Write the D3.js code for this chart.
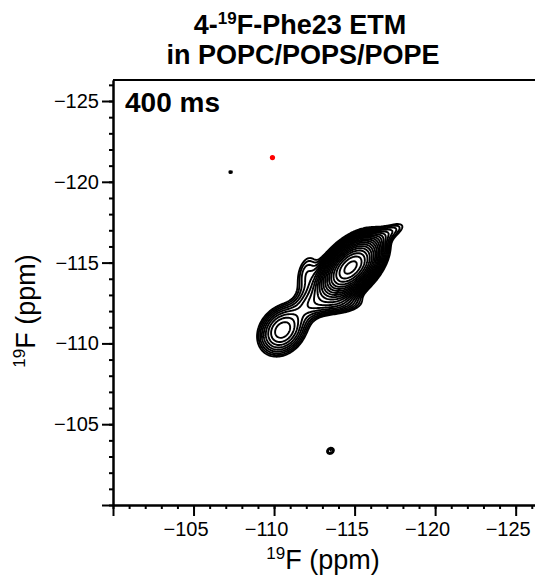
<!DOCTYPE html>
<html>
<head>
<meta charset="utf-8">
<script src="https://cdn.jsdelivr.net/npm/d3@7"></script>
<style>
  body { margin: 0; background: #fff; }
  text { font-family: "Liberation Sans", Arial, sans-serif; fill: #000; }
</style>
</head>
<body>
<svg id="drawing_region"></svg>
<script>
// axis ticks (ppm)
const xTicks = [-100, -105, -110, -115, -120, -125];
const yTicks = [-100, -105, -110, -115, -120, -125];

// peak list (ppm, ppm, height, widths along/across, angle deg)
const peakX     = [-114.75, -110.5, -112.4, -112.0, -114.0, -117.2, -113.5, -107.3];
const peakY     = [-114.7, -110.8, -112.6, -114.4, -112.4, -116.9, -103.35, -120.6];
const peakAmp   = [48, 5.6, 2.4, 1.6, 2.0, 1.5, 1.5, 1.3];
const peakWidA  = [1.1, 0.95, 1.0, 0.9, 1.1, 0.9, 0.25, 0.15];
const peakWidB  = [0.62, 0.75, 0.6, 0.45, 0.4, 0.33, 0.2, 0.08];
const peakAngle = [45, 50, 45, 75, 5, 27, 30, 0];

// contour levels
const levels = [1, 1.22, 1.49, 1.82, 2.22, 2.7, 3.3, 4.02, 4.91, 5.99,
                7.3, 8.9, 10.9, 13.3, 16.2, 19.7, 24.1, 29.4, 35.8, 43.7];

// extra marker (red dot)
const markerX = [-109.9];
const markerY = [-121.5];

class ContourPlot {
    constructor( config ) {
        this.config = config;
        this.init();
    }

    init() {
        let self = this;
        self.svg = d3.select( self.config.parent )
            .attr('width', self.config.width)
            .attr('height', self.config.height);

        self.xscale = d3.scaleLinear()
            .domain([-100, -126.2])
            .range([113, 535]);
        self.yscale = d3.scaleLinear()
            .domain([-100, -126.3])
            .range([505, 80]);
    }

    render() {
        let self = this;
        const step = 0.08;
        const x0 = -100, y0 = -100;
        const nx = Math.ceil(26.2 / step) + 1;
        const ny = Math.ceil(26.3 / step) + 1;

        const values = new Float64Array(nx * ny);
        for (let j = 0; j < ny; j++) {
            const y = y0 - j * step;
            for (let i = 0; i < nx; i++) {
                const x = x0 - i * step;
                let v = 0;
                for (let k = 0; k < peakX.length; k++) {
                    const a = peakAngle[k] * Math.PI / 180;
                    const dx = x - peakX[k], dy = y - peakY[k];
                    const du = dx * Math.cos(a) + dy * Math.sin(a);
                    const dv = -dx * Math.sin(a) + dy * Math.cos(a);
                    v += peakAmp[k] * Math.exp(-du*du/(2*peakWidA[k]**2) - dv*dv/(2*peakWidB[k]**2));
                }
                values[i + j * nx] = v;
            }
        }

        const contours = d3.contours()
            .size([nx, ny])
            .thresholds(levels)(values);

        const proj = d3.geoTransform({
            point: function(gx, gy) {
                this.stream.point(self.xscale(x0 - (gx - 0.5) * step), self.yscale(y0 - (gy - 0.5) * step));
            }
        });
        const path = d3.geoPath(proj);

        self.svg.append('g')
            .selectAll('path')
            .data(contours)
            .join('path')
            .attr('d', path)
            .attr('fill', 'none')
            .attr('stroke', '#000')
            .attr('stroke-width', 1.9)
            .attr('stroke-linejoin', 'round');

        self.svg.append('g')
            .selectAll('circle')
            .data(markerX)
            .join('circle')
            .attr('cx', d => self.xscale(d))
            .attr('cy', (d, i) => self.yscale(markerY[i]))
            .attr('r', 2.6)
            .attr('fill', '#ff0000');

        // axes
        const fmt = d => d === -100 ? '' : d3.format('d')(d);
        const xaxis = d3.axisBottom(self.xscale)
            .tickValues(xTicks).tickFormat(fmt).tickSize(11).tickPadding(6).tickSizeOuter(0);
        const yaxis = d3.axisLeft(self.yscale)
            .tickValues(yTicks).tickFormat(fmt).tickSize(11).tickPadding(3).tickSizeOuter(0);
        const xminor = d3.axisBottom(self.xscale)
            .tickValues(d3.range(-100, -127, -1)).tickFormat('').tickSize(4).tickSizeOuter(0);
        const yminor = d3.axisLeft(self.yscale)
            .tickValues(d3.range(-100, -127, -1)).tickFormat('').tickSize(4).tickSizeOuter(0);

        const style = g => {
            g.selectAll('path.domain').attr('stroke-width', 2);
            g.selectAll('line').attr('stroke-width', 2);
            g.selectAll('text').attr('font-size', 20).attr('font-family', '"Liberation Sans", Arial, sans-serif');
        };
        self.svg.append('g').attr('transform', 'translate(0,505)').call(xminor).call(style);
        self.svg.append('g').attr('transform', 'translate(113,0)').call(yminor).call(style);
        self.svg.append('g').attr('transform', 'translate(0,505)').call(xaxis).call(style)
            .selectAll('text').attr('dx', -8);
        self.svg.append('g').attr('transform', 'translate(113,0)').call(yaxis).call(style);

        // top frame line
        self.svg.append('line')
            .attr('x1', 113).attr('x2', 535)
            .attr('y1', 80).attr('y2', 80)
            .attr('stroke', '#000').attr('stroke-width', 2);

        // texts
        const t1 = self.svg.append('text')
            .attr('x', 300).attr('y', 34)
            .attr('text-anchor', 'middle')
            .attr('font-size', 27).attr('font-weight', 'bold');
        t1.append('tspan').text('4-');
        t1.append('tspan').attr('font-size', 17).attr('dy', -10).text('19');
        t1.append('tspan').attr('dy', 10).text('F-Phe23 ETM');

        self.svg.append('text')
            .attr('x', 303).attr('y', 64)
            .attr('text-anchor', 'middle')
            .attr('font-size', 27).attr('font-weight', 'bold')
            .text('in POPC/POPS/POPE');

        self.svg.append('text')
            .attr('x', 125).attr('y', 112)
            .attr('font-size', 28).attr('font-weight', 'bold')
            .text('400 ms');

        const xl = self.svg.append('text')
            .attr('x', 323).attr('y', 569)
            .attr('text-anchor', 'middle')
            .attr('font-size', 27);
        xl.append('tspan').attr('font-size', 17).attr('dy', -10).text('19');
        xl.append('tspan').attr('dy', 10).text('F (ppm)');

        const yl = self.svg.append('text')
            .attr('transform', 'translate(35,311) rotate(-90)')
            .attr('text-anchor', 'middle')
            .attr('font-size', 27);
        yl.append('tspan').attr('font-size', 17).attr('dy', -10).text('19');
        yl.append('tspan').attr('dy', 10).text('F (ppm)');
    }
}

const plot = new ContourPlot({ parent: '#drawing_region', width: 535, height: 580 });
plot.render();
</script>
</body>
</html>
